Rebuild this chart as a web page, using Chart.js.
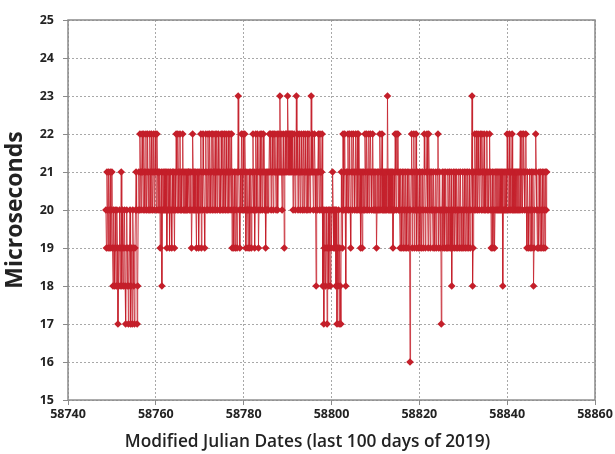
<!DOCTYPE html>
<html>
<head>
<meta charset="utf-8">
<script src="https://cdn.jsdelivr.net/npm/chart.js@4/dist/chart.umd.min.js"></script>
<style>
  body { margin: 0; background: #fff; }
  #wrap { width: 615px; height: 454px; position: relative; }
</style>
</head>
<body>
<div id="wrap"><canvas id="mjdChart"></canvas></div>
<script>
// sampling of the series: one value every 3 hours, first sample at MJD 58748.625
const firstMJD = 58748.625;
const stepDays = 0.125;

// microseconds (8 per day, one day per row)
const offsets = [
  20, 19, 21,                           // 58748 (last 3)
  20, 19, 21, 19, 20, 21, 19, 20,       // 58749
  21, 19, 18, 20, 19, 18, 20, 19,       // 58750
  18, 20, 19, 17, 18, 19, 20, 18,       // 58751
  19, 21, 18, 20, 19, 18, 19, 20,       // 58752
  18, 17, 19, 20, 18, 19, 17, 18,       // 58753
  19, 20, 17, 18, 19, 17, 20, 19,       // 58754
  18, 17, 19, 20, 21, 20, 17, 18,       // 58755
  20, 21, 20, 22, 21, 20, 21, 22,       // 58756
  21, 20, 22, 21, 20, 21, 22, 20,       // 58757
  21, 22, 20, 21, 20, 22, 21, 20,       // 58758
  22, 21, 20, 21, 22, 20, 21, 22,       // 58759
  21, 20, 22, 21, 20, 21, 20, 21,       // 58760
  19, 20, 21, 18, 20, 21, 20, 21,       // 58761
  20, 21, 20, 21, 19, 20, 21, 20,       // 58762
  21, 19, 20, 21, 20, 19, 21, 20,       // 58763
  21, 20, 19, 21, 20, 22, 21, 20,       // 58764
  22, 21, 20, 21, 22, 20, 21, 20,       // 58765
  21, 22, 20, 21, 20, 21, 20, 21,       // 58766
  20, 21, 20, 21, 21, 20, 21, 20,       // 58767
  21, 19, 20, 22, 21, 20, 21, 20,       // 58768
  21, 20, 19, 21, 20, 21, 19, 20,       // 58769
  21, 20, 22, 19, 21, 20, 22, 21,       // 58770
  20, 19, 21, 22, 20, 21, 20, 22,       // 58771
  21, 20, 22, 21, 20, 21, 22, 20,       // 58772
  22, 21, 20, 21, 22, 20, 21, 22,       // 58773
  20, 21, 22, 21, 20, 21, 20, 22,       // 58774
  21, 20, 22, 21, 20, 22, 21, 20,       // 58775
  22, 21, 20, 21, 22, 20, 21, 22,       // 58776
  21, 20, 22, 19, 21, 20, 19, 21,       // 58777
  20, 19, 21, 20, 19, 21, 23, 21,       // 58778
  20, 19, 21, 20, 22, 21, 20, 22,       // 58779
  21, 20, 22, 21, 19, 20, 21, 20,       // 58780
  19, 20, 21, 19, 20, 21, 19, 20,       // 58781
  21, 22, 20, 21, 19, 20, 22, 21,       // 58782
  20, 22, 21, 19, 20, 21, 22, 20,       // 58783
  21, 22, 20, 21, 22, 21, 20, 21,       // 58784
  19, 20, 21, 20, 21, 20, 21, 22,       // 58785
  21, 22, 20, 21, 22, 21, 20, 22,       // 58786
  21, 22, 21, 20, 21, 22, 20, 21,       // 58787
  22, 21, 23, 21, 22, 21, 20, 21,       // 58788
  22, 21, 19, 21, 22, 21, 22, 21,       // 58789
  23, 22, 21, 22, 21, 22, 21, 22,       // 58790
  21, 22, 20, 21, 22, 21, 20, 21,       // 58791
  23, 21, 22, 20, 21, 22, 21, 20,       // 58792
  21, 22, 21, 20, 21, 22, 20, 21,       // 58793
  22, 21, 20, 21, 22, 20, 21, 22,       // 58794
  21, 20, 21, 23, 21, 22, 21, 20,       // 58795
  21, 22, 21, 20, 18, 21, 20, 21,       // 58796
  22, 21, 20, 22, 21, 20, 21, 22,       // 58797
  18, 20, 17, 19, 20, 18, 19, 20,       // 58798
  17, 19, 20, 18, 20, 19, 18, 20,       // 58799
  19, 20, 21, 20, 19, 20, 19, 20,       // 58800
  18, 20, 17, 19, 18, 20, 17, 19,       // 58801
  18, 17, 21, 20, 19, 22, 20, 21,       // 58802
  22, 20, 18, 21, 20, 21, 22, 20,       // 58803
  21, 22, 20, 19, 21, 22, 20, 21,       // 58804
  22, 21, 20, 21, 22, 20, 21, 22,       // 58805
  20, 22, 21, 20, 21, 19, 21, 20,       // 58806
  19, 21, 20, 21, 20, 22, 21, 20,       // 58807
  22, 21, 20, 21, 22, 20, 21, 22,       // 58808
  21, 20, 21, 22, 20, 21, 20, 21,       // 58809
  20, 21, 19, 20, 21, 20, 21, 20,       // 58810
  22, 21, 20, 21, 22, 20, 21, 20,       // 58811
  21, 20, 21, 20, 21, 20, 23, 21,       // 58812
  20, 21, 20, 21, 20, 21, 20, 21,       // 58813
  19, 20, 21, 20, 22, 21, 20, 22,       // 58814
  21, 22, 20, 21, 20, 19, 21, 20,       // 58815
  19, 21, 20, 19, 21, 20, 19, 21,       // 58816
  20, 19, 21, 20, 19, 21, 20, 16,       // 58817
  20, 21, 22, 19, 21, 20, 22, 19,       // 58818
  21, 20, 22, 19, 20, 21, 19, 20,       // 58819
  21, 19, 20, 21, 19, 20, 21, 19,       // 58820
  20, 22, 21, 19, 20, 21, 22, 20,       // 58821
  19, 22, 21, 20, 19, 21, 20, 21,       // 58822
  20, 19, 21, 20, 19, 20, 21, 19,       // 58823
  20, 21, 22, 19, 20, 21, 19, 20,       // 58824
  17, 20, 21, 19, 20, 21, 19, 20,       // 58825
  21, 19, 20, 19, 21, 20, 19, 21,       // 58826
  20, 19, 21, 18, 20, 19, 21, 20,       // 58827
  19, 21, 20, 19, 21, 20, 19, 20,       // 58828
  21, 19, 20, 21, 19, 20, 19, 21,       // 58829
  20, 19, 21, 20, 19, 21, 20, 19,       // 58830
  21, 20, 19, 21, 20, 19, 20, 21,       // 58831
  23, 18, 19, 21, 20, 22, 21, 20,       // 58832
  22, 21, 20, 22, 21, 20, 21, 22,       // 58833
  21, 20, 22, 21, 20, 21, 22, 20,       // 58834
  21, 20, 21, 22, 20, 21, 20, 21,       // 58835
  22, 20, 21, 19, 20, 21, 19, 20,       // 58836
  21, 19, 20, 21, 20, 21, 20, 21,       // 58837
  20, 21, 20, 21, 20, 21, 20, 21,       // 58838
  18, 20, 21, 20, 21, 20, 21, 20,       // 58839
  22, 21, 20, 21, 22, 20, 21, 20,       // 58840
  21, 22, 20, 21, 20, 21, 20, 21,       // 58841
  20, 21, 20, 21, 20, 21, 20, 21,       // 58842
  22, 20, 21, 22, 20, 21, 22, 21,       // 58843
  20, 21, 22, 20, 19, 21, 20, 19,       // 58844
  20, 21, 19, 20, 21, 19, 20, 21,       // 58845
  18, 19, 20, 21, 22, 21, 20, 19,       // 58846
  20, 19, 21, 20, 19, 21, 20, 19,       // 58847
  21, 20, 19, 21, 20, 19, 21, 20,       // 58848
  21                                    // 58849
];

const xTicks = [58740, 58760, 58780, 58800, 58820, 58840, 58860];
const yTicks = [15, 16, 17, 18, 19, 20, 21, 22, 23, 24, 25];

const points = offsets.map((v, i) => ({ x: firstMJD + i * stepDays, y: v }));

const red = "#c41f2a";
const tickFont = { family: "'Open Sans', sans-serif", size: 12.5, weight: "bold" };

// frame round the plot area (top and right edges too)
const frame = {
  id: "frame",
  afterDraw(c) {
    const a = c.chartArea, ctx = c.ctx;
    ctx.save();
    ctx.strokeStyle = "#8a8a8a";
    ctx.lineWidth = 1.5;
    ctx.strokeRect(a.left, a.top, a.right - a.left, a.bottom - a.top);
    ctx.restore();
  }
};

new Chart(document.getElementById("mjdChart"), {
  type: "line",
  data: {
    datasets: [{
      data: points,
      borderColor: "rgba(196,31,42,0.8)",
      borderWidth: 1,
      pointStyle: "rectRot",
      pointRadius: 3.8,
      pointBackgroundColor: red,
      pointBorderWidth: 0,
      tension: 0
    }]
  },
  options: {
    responsive: true,
    maintainAspectRatio: false,
    animation: false,
    layout: { padding: { left: 0, top: 20, right: 0, bottom: 0 } },
    plugins: {
      legend: { display: false },
      tooltip: { enabled: false },
      // x-axis caption, centred on the whole figure like the original
      title: {
        display: true,
        position: "bottom",
        text: "Modified Julian Dates (last 100 days of 2019)",
        font: { family: "'Open Sans', sans-serif", size: 17.3, weight: "600" },
        color: "#222",
        padding: { top: 0, bottom: 1.5 }
      }
    },
    scales: {
      x: {
        type: "linear",
        min: xTicks[0],
        max: xTicks[xTicks.length - 1],
        afterBuildTicks: s => { s.ticks = xTicks.map(v => ({ value: v })); },
        afterFit: s => { s.height = 31.7; },
        ticks: { font: tickFont, color: "#222", padding: 2, maxRotation: 0, callback: v => String(v) },
        grid: { color: "#a8a8a8", tickLength: 5, tickColor: "#8a8a8a", tickBorderDash: [] },
        border: { display: false, dash: [2, 2] }
      },
      y: {
        min: yTicks[0],
        max: yTicks[yTicks.length - 1],
        afterBuildTicks: s => { s.ticks = yTicks.map(v => ({ value: v })); },
        afterFit: s => { s.width = 68; },
        ticks: { font: tickFont, color: "#222", padding: 9 },
        grid: { color: "#a8a8a8", tickLength: 5, tickColor: "#8a8a8a", tickBorderDash: [] },
        border: { display: false, dash: [2, 2] },
        title: {
          display: true,
          text: "Microseconds",
          font: { family: "'Open Sans', sans-serif", size: 23, weight: "bold" },
          color: "#222",
          padding: { top: 2, bottom: 0 }
        }
      },
      // empty strip on the right so the plot ends where the original does
      yRight: {
        position: "right",
        min: yTicks[0],
        max: yTicks[yTicks.length - 1],
        afterFit: s => { s.width = 20; },
        ticks: { display: false },
        grid: { display: false },
        border: { display: false }
      }
    }
  },
  plugins: [frame]
});
</script>
</body>
</html>
